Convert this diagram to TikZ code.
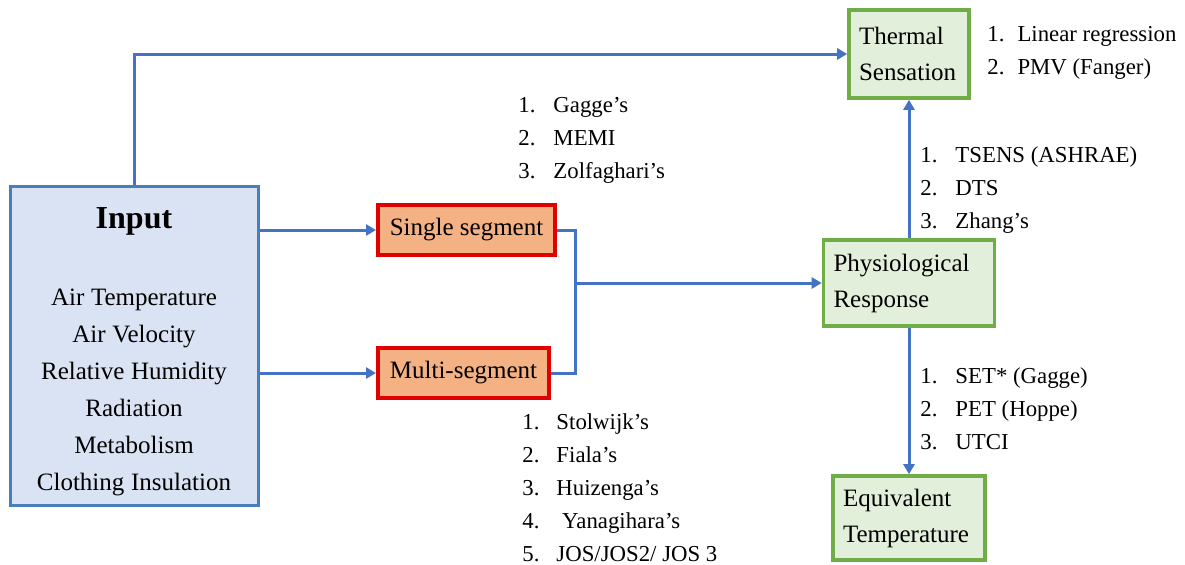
\documentclass[tikz,border=0pt]{standalone}
\usepackage{fontspec}
\setmainfont{Liberation Serif}
\usetikzlibrary{arrows.meta}
\definecolor{lineblue}{HTML}{4472C4}
\definecolor{inputblue}{HTML}{4A7EBB}
\definecolor{inputfill}{HTML}{DAE3F3}
\definecolor{boxred}{HTML}{E00000}
\definecolor{boxorange}{HTML}{F4B183}
\definecolor{boxgreen}{HTML}{70AD47}
\definecolor{greenfill}{HTML}{E2EFDA}
\begin{document}
\begin{tikzpicture}[x=0.5pt,y=-0.5pt,
  link/.style={draw=lineblue,line width=1.5pt},
  arr/.style={link,-{Triangle[length=5pt,width=5.5pt]}},
  inbox/.style={draw=inputblue,fill=inputfill,line width=1.5pt,text width=114pt,minimum height=159.5pt,inner xsep=5pt,inner ysep=0pt,align=center},
  modelbox/.style={draw=boxred,fill=boxorange,line width=2pt,minimum height=25pt,inner sep=0pt,font=\fontsize{12.5}{15}\selectfont},
  outbox/.style={draw=boxgreen,fill=greenfill,line width=1.8pt,align=left,inner xsep=5pt,inner ysep=0pt,font=\fontsize{12.5}{18}\selectfont},
  steps/.style={anchor=base west,inner sep=0pt,font=\fontsize{11.4}{16.5}\selectfont}]
\useasboundingbox (0,0) rectangle (1185,564);

\node[inbox] (input) at (134,345.5) {{\fontsize{16}{20}\selectfont\bfseries\rule{0pt}{17pt}Input\par}\vspace{20pt}{\fontsize{12.5}{18.5}\selectfont Air Temperature\\ Air Velocity\\ Relative Humidity\\ Radiation\\ Metabolism\\ Clothing Insulation\par}};

\node[modelbox,minimum width=88.5pt] (single) at (466.5,230) {Single segment};
\node[modelbox,minimum width=85.5pt] (multi) at (463.5,373) {Multi-segment};

\node[outbox,text width=50pt,minimum height=44pt] (thermal) at (909,54) {Thermal\\ Sensation};
\node[outbox,text width=75.5pt,minimum height=43pt] (physio) at (909,283) {Physiological\\ Response};
\node[outbox,text width=66pt,minimum height=42pt] (equiv) at (909,518) {Equivalent\\ Temperature};

\node[steps] (gagge) at (518,112) {\begin{tabular}[t]{@{}l@{\hspace{9pt}}l@{}}1. & Gagge’s\\ 2. & MEMI\\ 3. & Zolfaghari’s\end{tabular}};
\node[steps] (stolwijk) at (522,429) {\begin{tabular}[t]{@{}l@{\hspace{8.5pt}}l@{}}1. & Stolwijk’s\\ 2. & Fiala’s\\ 3. & Huizenga’s\\ 4. & \ Yanagihara’s\\ 5. & JOS/JOS2/ JOS 3\end{tabular}};
\node[steps] (linear) at (987,41) {\begin{tabular}[t]{@{}l@{\hspace{6.5pt}}l@{}}1. & Linear regression\\ 2. & PMV (Fanger)\end{tabular}};
\node[steps] (tsens) at (920,162) {\begin{tabular}[t]{@{}l@{\hspace{9pt}}l@{}}1. & TSENS (ASHRAE)\\ 2. & DTS\\ 3. & Zhang’s\end{tabular}};
\node[steps] (setlist) at (920,383) {\begin{tabular}[t]{@{}l@{\hspace{9pt}}l@{}}1. & SET* (Gagge)\\ 2. & PET (Hoppe)\\ 3. & UTCI\end{tabular}};

\coordinate (join) at (575,283);
\draw[arr] (input.north) |- (thermal.west);
\draw[arr] (input.east |- single) -- (single.west);
\draw[arr] (input.east |- multi) -- (multi.west);
\draw[link] (single.east) -| (join) |- (multi.east);
\draw[arr] (join) -- (physio.west);
\draw[arr] (physio.north) -- (thermal.south);
\draw[arr] (physio.south) -- (equiv.north);
\end{tikzpicture}
\end{document}
